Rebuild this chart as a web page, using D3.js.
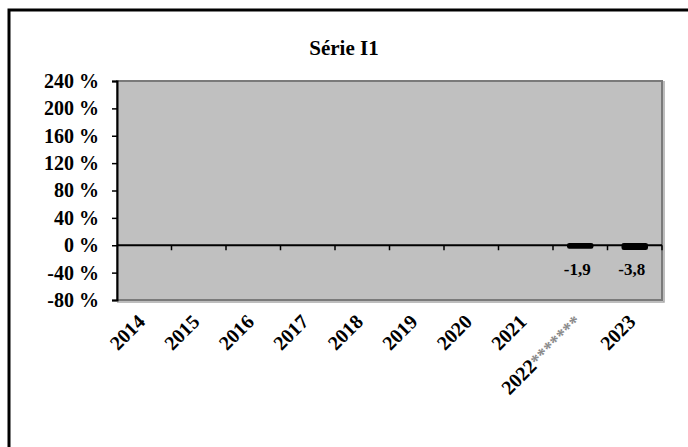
<!DOCTYPE html>
<html>
<head>
<meta charset="utf-8">
<script src="https://cdn.jsdelivr.net/npm/d3@7"></script>
<style>
  body { margin: 0; background: #fff; }
  text { font-family: "Liberation Serif", "Times New Roman", serif; font-weight: bold; }
</style>
</head>
<body>
<svg width="688" height="447"></svg>
<script>
// data
var years = ["2014", "2015", "2016", "2017", "2018", "2019", "2020", "2021", "2022", "2023"];
var yearStars = ["", "", "", "", "", "", "", "", "*******", ""];
var values = [null, null, null, null, null, null, null, null, -1.9, -3.8];
var valueLabels = ["", "", "", "", "", "", "", "", "-1,9", "-3,8"];
var yTicks = [-80, -40, 0, 40, 80, 120, 160, 200, 240];

var svg = d3.select("svg");

// outer frame
svg.append("rect")
    .attr("x", 9).attr("y", 10)
    .attr("width", 700).attr("height", 460)
    .attr("fill", "none").attr("stroke", "#000").attr("stroke-width", 3);

var plotL = 117, plotR = 662, plotT = 81, plotB = 300;

var x = d3.scaleBand().domain(years).range([plotL, plotR]).paddingInner(0).paddingOuter(0);
var y = d3.scaleLinear().domain([-80, 240]).range([plotB, plotT]);

// plot area
svg.append("rect")
    .attr("x", plotL).attr("y", plotT)
    .attr("width", plotR - plotL).attr("height", plotB - plotT)
    .attr("fill", "#c0c0c0").attr("stroke", "#7a7a7a").attr("stroke-width", 2);
svg.append("path")
    .attr("d", "M" + plotL + "," + (plotB + 2) + "H" + (plotR + 2) + "V" + plotT)
    .attr("fill", "none").attr("stroke", "#a8a8a8").attr("stroke-width", 1.5);

// title
svg.append("text")
    .attr("x", 344).attr("y", 55)
    .attr("text-anchor", "middle")
    .attr("font-size", "21px")
    .text("Série I1");

// y axis
var yAxis = d3.axisLeft(y).tickValues(yTicks).tickSize(5).tickPadding(13)
    .tickFormat(function (d) { return d + " %"; });
var gy = svg.append("g").attr("transform", "translate(" + plotL + ",0)").call(yAxis);
gy.select(".domain").attr("stroke", "#000").attr("stroke-width", 2);
gy.selectAll(".tick line").attr("stroke", "#000").attr("stroke-width", 1.5);
gy.selectAll(".tick text")
    .attr("fill", "#000")
    .style("font-family", "Liberation Serif, serif")
    .style("font-weight", "bold")
    .style("font-size", "20px");

// zero line with ticks between categories
svg.append("line")
    .attr("x1", plotL).attr("x2", plotR)
    .attr("y1", y(0)).attr("y2", y(0))
    .attr("stroke", "#000").attr("stroke-width", 2);
svg.selectAll(".xtick")
    .data(years)
    .enter().append("line")
    .attr("x1", function (d) { return x(d) + x.bandwidth(); })
    .attr("x2", function (d) { return x(d) + x.bandwidth(); })
    .attr("y1", y(0)).attr("y2", y(0) + 5)
    .attr("stroke", "#000").attr("stroke-width", 1.5);

// bars
var bw = 22;
svg.selectAll(".bar")
    .data(years.filter(function (d, i) { return values[i] != null; }))
    .enter().append("rect")
    .attr("x", function (d) { return x(d) + x.bandwidth() / 2 - bw / 2; })
    .attr("y", y(0))
    .attr("width", bw)
    .attr("height", function (d) { return y(values[years.indexOf(d)]) - y(0); })
    .attr("fill", "#000").attr("stroke", "#000").attr("stroke-width", 4.5)
    .attr("stroke-linejoin", "round");

// value labels
svg.selectAll(".vlab")
    .data(years.filter(function (d, i) { return valueLabels[i] !== ""; }))
    .enter().append("text")
    .attr("x", function (d) { return x(d) + x.bandwidth() / 2 - 3; })
    .attr("y", 275)
    .attr("text-anchor", "middle")
    .attr("font-size", "17px")
    .text(function (d) { return valueLabels[years.indexOf(d)]; });

// category labels, rotated
var xl = svg.selectAll(".xlab")
    .data(years)
    .enter().append("text")
    .attr("text-anchor", "end")
    .attr("font-size", "20px")
    .attr("transform", function (d) {
        return "translate(" + (x(d) + x.bandwidth() / 2 + 2) + "," + 323 + ") rotate(-45)";
    });
xl.append("tspan").text(function (d) { return d; });
xl.append("tspan")
    .attr("fill", "#8a8a8a")
    .attr("font-size", "18px")
    .text(function (d, i) { return yearStars[i]; });
</script>
</body>
</html>
